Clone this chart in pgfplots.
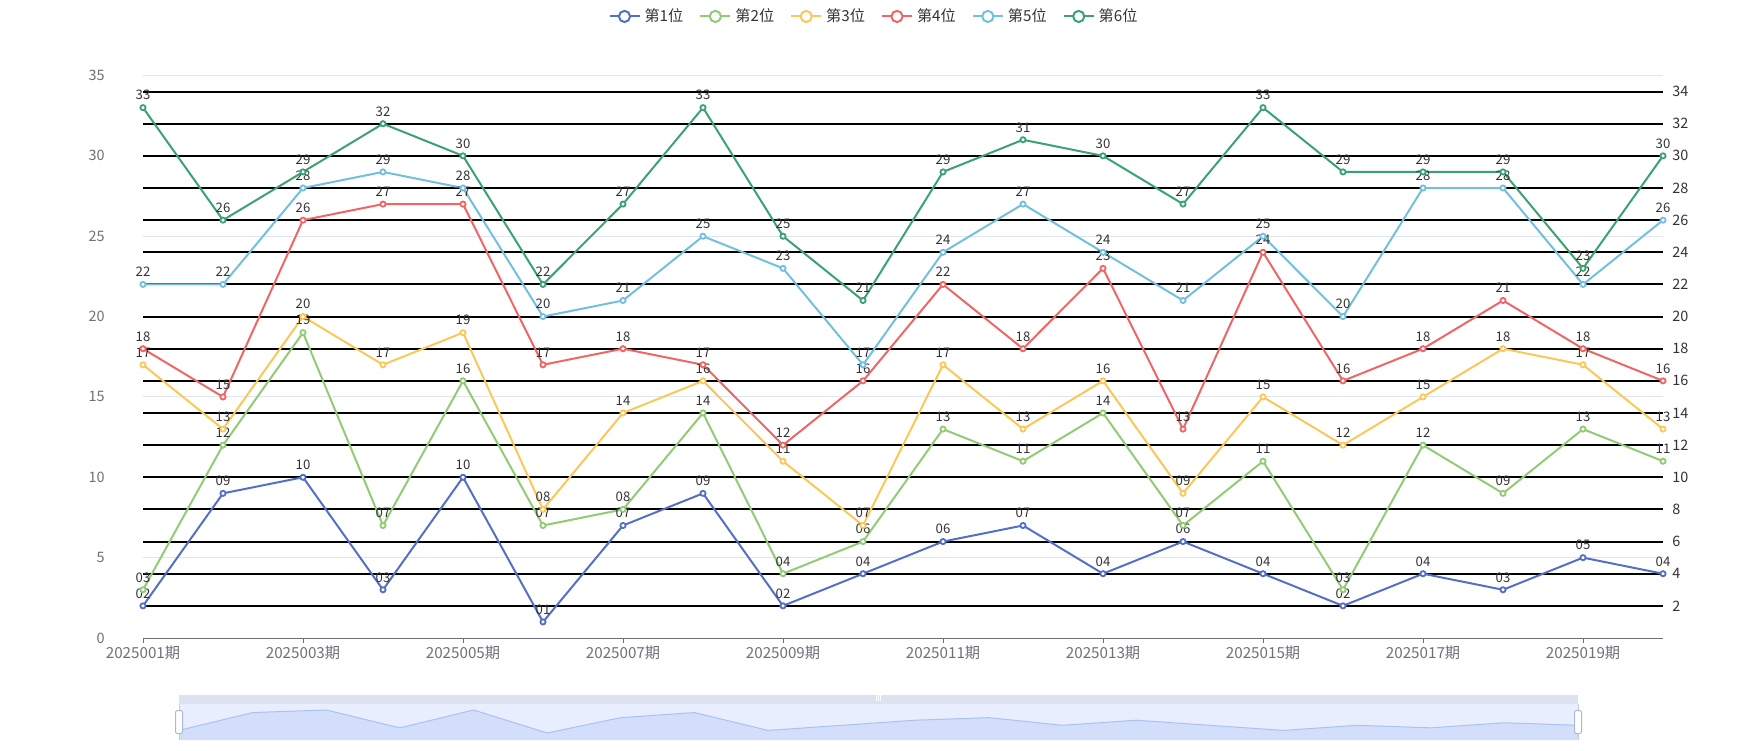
\documentclass[border=0pt]{standalone}
\usepackage{pgfplots}
\pgfplotsset{compat=1.18}
\usepackage{pgfplotstable}
\usepackage{fontspec}
\setmainfont{Noto Sans CJK SC}

\definecolor{c1}{HTML}{5470C6}
\definecolor{c2}{HTML}{91CC75}
\definecolor{c3}{HTML}{FAC858}
\definecolor{c4}{HTML}{EE6666}
\definecolor{c5}{HTML}{73C0DE}
\definecolor{c6}{HTML}{3BA272}
\definecolor{axisgrey}{HTML}{6E7079}
\definecolor{gridcol}{HTML}{E0E6F1}
\definecolor{labcol}{HTML}{333333}
\definecolor{bodycol}{HTML}{E8EEFD}
\definecolor{shfill}{HTML}{D3DFFA}
\definecolor{shline}{HTML}{A9C1F5}
\definecolor{topbar}{HTML}{DCE2F0}
\definecolor{handleb}{HTML}{ACB8D1}

\pgfplotstableread{
x s1 s2 s3 s4 s5 s6
0 02 03 17 18 22 33
1 09 12 13 15 22 26
2 10 19 20 26 28 29
3 03 07 17 27 29 32
4 10 16 19 27 28 30
5 01 07 08 17 20 22
6 07 08 14 18 21 27
7 09 14 16 17 25 33
8 02 04 11 12 23 25
9 04 06 07 16 17 21
10 06 13 17 22 24 29
11 07 11 13 18 27 31
12 04 14 16 23 24 30
13 06 07 09 13 21 27
14 04 11 15 24 25 33
15 02 03 12 16 20 29
16 04 12 15 18 28 29
17 03 09 18 21 28 29
18 05 13 17 18 22 23
19 04 11 13 16 26 30
}\data

\pgfplotsset{
  ser/.style={color=#1, line width=1pt, mark=*, mark size=1.3pt,
    mark options={fill=white, line width=0.9pt, solid},
    nodes near coords, point meta=explicit symbolic},
  every node near coord/.append style={font=\fontsize{6.6}{7}\selectfont, text=labcol, anchor=center, yshift=6.2pt, inner sep=0pt},
}

\begin{document}
\begin{tikzpicture}
\useasboundingbox (0,0) rectangle (875pt,375pt);

% left axis: light grid, x axis
\begin{axis}[at={(71.5pt,56pt)}, anchor=south west,
  width=760pt, height=281.25pt, scale only axis,
  xmin=0, xmax=19, ymin=0, ymax=35,
  axis x line*=bottom, axis y line*=left,
  x axis line style={color=axisgrey, line width=0.5pt, -},
  y axis line style={draw=none},
  xtick={0,2,...,18},
  xticklabels={2025001期,2025003期,2025005期,2025007期,2025009期,2025011期,2025013期,2025015期,2025017期,2025019期},
  ytick={0,5,...,35},
  ymajorgrids, grid style={color=gridcol, line width=0.5pt},
  major y tick style={draw=none},
  xtick align=outside,
  major x tick style={color=axisgrey, line width=0.5pt},
  major tick length=2.5pt,
  /pgf/number format/assume math mode=true,
  ticklabel style={text=axisgrey},
  yticklabel style={font=\fontsize{7.2}{8}\selectfont, inner sep=0pt, anchor=east, xshift=-19pt},
  xticklabel style={font=\fontsize{7.6}{8}\selectfont, inner sep=0pt, anchor=center, yshift=-5pt},
]
\end{axis}

% right axis: black grid, data
\begin{axis}[at={(71.5pt,56pt)}, anchor=south west,
  width=760pt, height=281.25pt, scale only axis,
  xmin=0, xmax=19, ymin=0, ymax=35,
  axis x line=none, axis y line*=right,
  y axis line style={draw=none},
  ytick={2,4,...,34},
  ymajorgrids, grid style={color=black, line width=1pt},
  major tick length=0pt,
  /pgf/number format/assume math mode=true,
  yticklabel style={font=\fontsize{7.2}{8}\selectfont, text=labcol, inner sep=0pt, anchor=west, xshift=4.5pt},
  clip=false,
  legend style={at={(0.4816,1.105)}, anchor=center, draw=none, fill=none,
    legend columns=6, font=\fontsize{7.6}{8}\selectfont, text=labcol,
    /tikz/every even column/.append style={column sep=6pt}},
  legend image code/.code={
    \draw[#1, line width=1pt] (0pt,0pt) -- (15pt,0pt);
    \draw[#1, line width=1pt, fill=white] (7.5pt,0pt) circle (2.8pt);
  },
]
\addplot[ser=c1] table[x=x, y=s1, meta=s1]{\data};
\addlegendentry{第1位}
\addplot[ser=c2] table[x=x, y=s2, meta=s2]{\data};
\addlegendentry{第2位}
\addplot[ser=c3] table[x=x, y=s3, meta=s3]{\data};
\addlegendentry{第3位}
\addplot[ser=c4] table[x=x, y=s4, meta=s4]{\data};
\addlegendentry{第4位}
\addplot[ser=c5] table[x=x, y=s5, meta=s5]{\data};
\addlegendentry{第5位}
\addplot[ser=c6] table[x=x, y=s6, meta=s6]{\data};
\addlegendentry{第6位}
\end{axis}

% data zoom slider
\begin{axis}[at={(89.5pt,5pt)}, anchor=south west,
  width=699.5pt, height=18pt, scale only axis,
  xmin=0, xmax=19, ymin=-1.76, ymax=12.35,
  axis lines=none, ticks=none, clip=false,
  axis background/.style={fill=bodycol},
]
\addplot[fill=shfill, draw=none, mark=none] table[x=x, y=s1]{\data} -- (axis cs:19,-1.76) -- (axis cs:0,-1.76) -- cycle;
\addplot[color=shline, line width=0.5pt, mark=none] table[x=x, y=s1]{\data};
\fill[topbar] (rel axis cs:0,1) rectangle ([yshift=4.5pt]rel axis cs:1,1);
\draw[handleb!70, line width=0.4pt] (rel axis cs:0,0) -- (rel axis cs:0,1);
\draw[handleb!70, line width=0.4pt] (rel axis cs:1,0) -- (rel axis cs:1,1);
\draw[white, line width=0.5pt] ([xshift=-1.2pt, yshift=1.3pt]rel axis cs:0.5,1) -- ++(0,2pt);
\draw[white, line width=0.5pt] ([yshift=1.3pt]rel axis cs:0.5,1) -- ++(0,2pt);
\draw[white, line width=0.5pt] ([xshift=1.2pt, yshift=1.3pt]rel axis cs:0.5,1) -- ++(0,2pt);
\node[draw=handleb, fill=white, rounded corners=1pt, minimum width=3.5pt, minimum height=11.5pt, inner sep=0pt, line width=0.5pt] at (rel axis cs:0,0.5) {};
\node[draw=handleb, fill=white, rounded corners=1pt, minimum width=3.5pt, minimum height=11.5pt, inner sep=0pt, line width=0.5pt] at (rel axis cs:1,0.5) {};
\end{axis}
\end{tikzpicture}
\end{document}
